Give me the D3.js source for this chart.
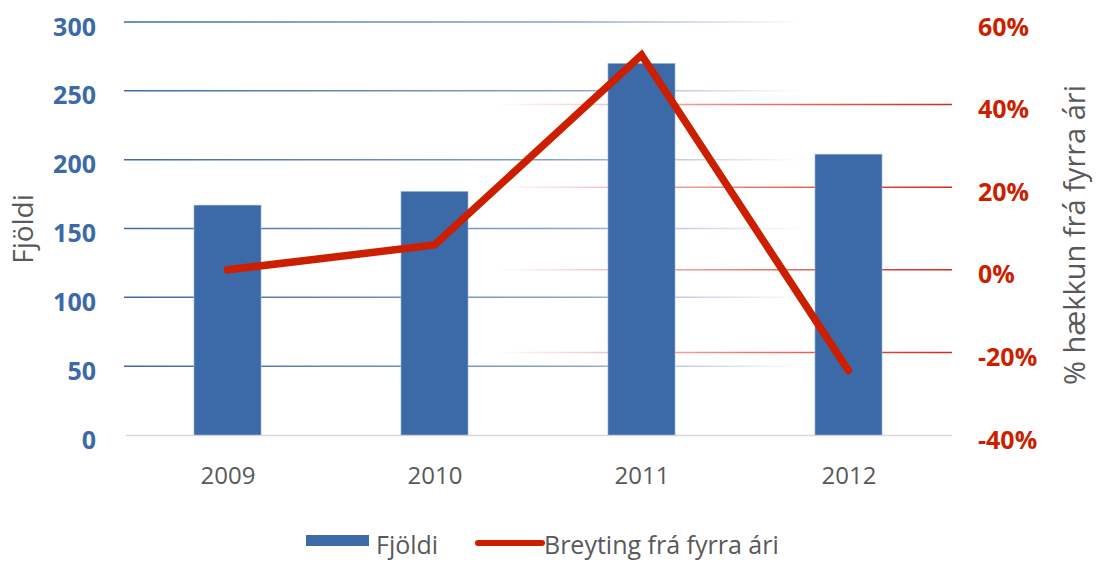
<!DOCTYPE html>
<html>
<head>
<meta charset="utf-8">
<script src="https://cdn.jsdelivr.net/npm/d3@7"></script>
<style>
  body { margin: 0; background: #fff; }
  svg { font-family: "Open Sans", sans-serif; }
</style>
</head>
<body>
<svg id="chart" width="1097" height="561"></svg>
<script>
const years = ['2009', '2010', '2011', '2012'];
const counts = [167, 177, 270, 204];
const changePct = [0, 6, 52, -24.4];
const leftTicks = [0, 50, 100, 150, 200, 250, 300];
const rightTicks = [-40, -20, 0, 20, 40, 60];

const margin = {left: 124, right: 145, top: 22, bottom: 126};
const width = 1097, height = 561;
const innerWidth = width - margin.left - margin.right;
const innerHeight = height - margin.top - margin.bottom;

const blue = '#3c69a7';
const red = '#cc1f00';
const gray = '#595959';

const svg = d3.select('#chart');
const defs = svg.append('defs');

// blue grid fades towards the right, red grid fades towards the left
const gBlue = defs.append('linearGradient')
    .attr('id', 'gradBlue')
    .attr('gradientUnits', 'userSpaceOnUse')
    .attr('x1', 0).attr('x2', innerWidth).attr('y1', 0).attr('y2', 0);
gBlue.append('stop').attr('offset', '0%').attr('stop-color', '#3f6aa8').attr('stop-opacity', 1);
gBlue.append('stop').attr('offset', '55%').attr('stop-color', '#3f6aa8').attr('stop-opacity', 0.6);
gBlue.append('stop').attr('offset', '82%').attr('stop-color', '#3f6aa8').attr('stop-opacity', 0);

const gRed = defs.append('linearGradient')
    .attr('id', 'gradRed')
    .attr('gradientUnits', 'userSpaceOnUse')
    .attr('x1', 0).attr('x2', innerWidth).attr('y1', 0).attr('y2', 0);
gRed.append('stop').attr('offset', '45%').attr('stop-color', '#d42a1a').attr('stop-opacity', 0);
gRed.append('stop').attr('offset', '75%').attr('stop-color', '#d42a1a').attr('stop-opacity', 0.6);
gRed.append('stop').attr('offset', '100%').attr('stop-color', '#d42a1a').attr('stop-opacity', 1);

const g = svg.append('g')
    .attr('transform', `translate(${margin.left}, ${margin.top})`);

const xScale = d3.scaleBand()
    .domain(years)
    .range([0, innerWidth])
    .paddingInner(0.676)
    .paddingOuter(0.338);

const xPoint = d3.scalePoint()
    .domain(years)
    .range([0, innerWidth])
    .padding(0.5);

const yLeft = d3.scaleLinear()
    .domain([0, 300])
    .range([innerHeight, 0]);

const yRight = d3.scaleLinear()
    .domain([-40, 60])
    .range([innerHeight, 0]);

// grid lines
g.selectAll('.gridBlue')
    .data(leftTicks.filter(d => d > 0))
    .join('line')
    .classed('gridBlue', true)
    .attr('x1', 0)
    .attr('x2', innerWidth)
    .attr('y1', d => yLeft(d))
    .attr('y2', d => yLeft(d))
    .style('stroke', 'url(#gradBlue)')
    .style('stroke-width', 1.5);

g.selectAll('.gridRed')
    .data(rightTicks.filter(d => d > -40 && d < 60))
    .join('line')
    .classed('gridRed', true)
    .attr('x1', 0)
    .attr('x2', innerWidth)
    .attr('y1', d => yRight(d))
    .attr('y2', d => yRight(d))
    .style('stroke', 'url(#gradRed)')
    .style('stroke-width', 1.5);

// baseline
g.append('line')
    .attr('x1', 2)
    .attr('x2', innerWidth)
    .attr('y1', innerHeight + 0.5)
    .attr('y2', innerHeight + 0.5)
    .style('stroke', '#d9d9d9')
    .style('stroke-width', 1.5);

// bars
g.selectAll('.bar')
    .data(years)
    .join('rect')
    .classed('bar', true)
    .attr('x', d => xScale(d))
    .attr('y', (d, i) => yLeft(counts[i]))
    .attr('width', xScale.bandwidth())
    .attr('height', (d, i) => innerHeight - yLeft(counts[i]))
    .style('fill', blue)
    .style('stroke', '#a9bedb')
    .style('stroke-width', 0.6);

// line
const line = d3.line()
    .x((d, i) => xPoint(years[i]))
    .y(d => yRight(d));

g.append('path')
    .datum(changePct)
    .attr('d', line)
    .style('fill', 'none')
    .style('stroke', red)
    .style('stroke-width', 7.5)
    .style('stroke-linecap', 'round')
    .style('stroke-linejoin', 'miter');

// axes
const leftAxis = g.append('g')
    .call(d3.axisLeft(yLeft).tickValues(leftTicks).tickSize(0).tickPadding(28));
leftAxis.select('.domain').remove();
leftAxis.selectAll('text')
    .attr('transform', 'translate(0, 5)')
    .style('font-size', '25px')
    .style('font-weight', '700')
    .style('font-family', '"Open Sans", sans-serif')
    .style('fill', blue);

const rightAxis = g.append('g')
    .attr('transform', `translate(${innerWidth}, 0)`)
    .call(d3.axisRight(yRight).tickValues(rightTicks).tickSize(0).tickPadding(26)
        .tickFormat(d => d + '%'));
rightAxis.select('.domain').remove();
rightAxis.selectAll('text')
    .attr('transform', 'translate(0, 5)')
    .style('font-size', '25px')
    .style('font-weight', '700')
    .style('font-family', '"Open Sans", sans-serif')
    .style('fill', red);

const xAxis = g.append('g')
    .attr('transform', `translate(0, ${innerHeight})`)
    .call(d3.axisBottom(xPoint).tickSize(0).tickPadding(32));
xAxis.select('.domain').remove();
xAxis.selectAll('text')
    .style('font-size', '24px')
    .style('font-family', '"Open Sans", sans-serif')
    .style('fill', gray);

// axis titles
svg.append('text')
    .attr('transform', `translate(33, 229) rotate(-90)`)
    .style('text-anchor', 'middle')
    .style('font-size', '28px')
    .style('fill', gray)
    .text('Fjöldi');

svg.append('text')
    .attr('transform', `translate(1085, 235) rotate(-90)`)
    .style('text-anchor', 'middle')
    .style('font-size', '29px')
    .style('fill', gray)
    .text('% hækkun frá fyrra ári');

// legend
const legend = svg.append('g').attr('transform', 'translate(306, 554)');
legend.append('rect')
    .attr('x', 0).attr('y', -19)
    .attr('width', 63).attr('height', 11)
    .style('fill', blue);
legend.append('text')
    .attr('x', 70).attr('y', 0)
    .style('font-size', '25px')
    .style('fill', gray)
    .text('Fjöldi');
legend.append('line')
    .attr('x1', 172).attr('x2', 236)
    .attr('y1', -11).attr('y2', -11)
    .style('stroke', red)
    .style('stroke-width', 6)
    .style('stroke-linecap', 'round');
legend.append('text')
    .attr('x', 238).attr('y', 0)
    .style('font-size', '25px')
    .style('fill', gray)
    .text('Breyting frá fyrra ári');
</script>
</body>
</html>
